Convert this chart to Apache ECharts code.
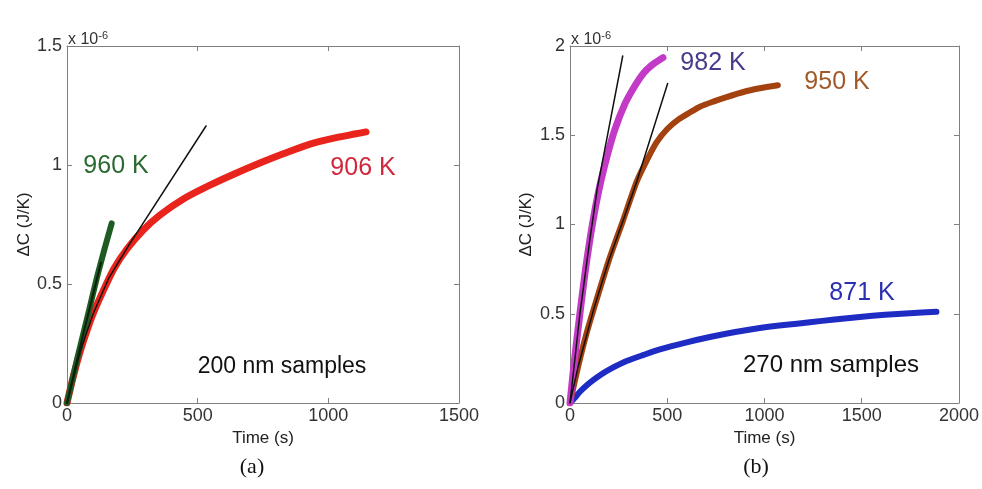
<!DOCTYPE html>
<html>
<head>
<meta charset="utf-8">
<script src="https://cdn.jsdelivr.net/npm/echarts@6/dist/echarts.min.js"></script>
<style>
  html, body { margin: 0; padding: 0; background: #fff; }
  #chart { width: 982px; height: 489px; }
</style>
</head>
<body>
<div id="chart"></div>
<script>
// panel (a): 200 nm samples, time in s, dC in 1e-6 J/K
const k906 = [[0,0],[25,0.115],[50,0.215],[75,0.3],[100,0.375],[138,0.47],[180,0.565],[228,0.645],[290,0.725],
  [356,0.79],[450,0.86],[547,0.915],[640,0.962],[738,1.008],[830,1.048],[930,1.088],[1030,1.115],[1100,1.13],[1144,1.139]];
const k960 = [[0,0],[40,0.19],[80,0.37],[120,0.55],[171,0.755]];
const fit906 = [[0,0],[50,0.215],[100,0.375],[160,0.525],[235,0.66],[532,1.164]];
const fit960 = [[0,0],[60,0.28],[130,0.59]];

// panel (b): 270 nm samples
const k982 = [[0,0],[25,0.26],[51,0.5],[80,0.75],[115,1.0],[150,1.2],[190,1.38],[230,1.53],[280,1.67],
  [330,1.77],[380,1.85],[430,1.9],[478,1.935]];
const k950 = [[0,0],[41,0.2],[80,0.37],[123,0.53],[200,0.8],[272,1.02],[343,1.24],[400,1.37],[445,1.46],
  [500,1.535],[560,1.59],[620,1.63],[668,1.66],[740,1.69],[805,1.714],[900,1.745],[976,1.763],[1069,1.78]];
const k871 = [[0,0],[25,0.03],[51,0.063],[85,0.098],[119,0.128],[160,0.16],[206,0.19],[291,0.235],[380,0.27],
  [462,0.3],[600,0.34],[719,0.37],[850,0.398],[976,0.42],[1100,0.437],[1233,0.452],[1360,0.468],[1490,0.482],
  [1620,0.494],[1747,0.503],[1884,0.511]];
const fit982 = [[0,0],[51,0.5],[100,0.9],[140,1.2],[271,1.944]];
const fit950 = [[0,0],[41,0.2],[123,0.53],[200,0.8],[272,1.02],[343,1.24],[502,1.79]];

const xTicksA = [0, 1500, 500];
const yTicksA = [0, 1.5, 0.5];
const xTicksB = [0, 2000, 500];
const yTicksB = [0, 2, 0.5];

const chart = echarts.init(document.getElementById('chart'));
const font = 'Liberation Sans, Arial, sans-serif';
const frame = '#808080';

function xAx(grid, t, bottom) {
  return {
    type: 'value', gridIndex: grid, min: t[0], max: t[1], interval: t[2],
    position: bottom ? 'bottom' : 'top',
    name: bottom ? 'Time (s)' : '', nameLocation: 'middle', nameGap: 25,
    nameTextStyle: { fontFamily: font, fontSize: 17, color: '#222' },
    axisLine: { show: true, onZero: false, lineStyle: { color: frame, width: 1 } },
    axisTick: { show: true, inside: true, length: 5, lineStyle: { color: frame } },
    axisLabel: { show: bottom, fontFamily: font, fontSize: 18, color: '#333', margin: 4, formatter: v => String(v) },
    splitLine: { show: false }
  };
}
function yAx(grid, t, left, gap) {
  return {
    type: 'value', gridIndex: grid, min: t[0], max: t[1], interval: t[2],
    position: left ? 'left' : 'right',
    name: left ? 'ΔC (J/K)' : '', nameLocation: 'middle', nameGap: gap, nameRotate: 90,
    nameTextStyle: { fontFamily: font, fontSize: 17, color: '#222' },
    axisLine: { show: true, onZero: false, lineStyle: { color: frame, width: 1 } },
    axisTick: { show: true, inside: true, length: 5, lineStyle: { color: frame } },
    axisLabel: { show: left, fontFamily: font, fontSize: 18, color: '#333', margin: 5, formatter: v => String(v) },
    splitLine: { show: false }
  };
}
function line(data, color, width, xi, yi, z, smooth) {
  return {
    type: 'line', data: data, xAxisIndex: xi, yAxisIndex: yi, showSymbol: false,
    smooth: smooth,
    lineStyle: { color: color, width: width, cap: 'round', join: 'round' }, z: z, animation: false
  };
}
function label(text, x, y, color, size) {
  return { type: 'text', x: x, y: y, style: { text: text, fill: color, font: size + 'px ' + font, textAlign: 'center', textVerticalAlign: 'middle' } };
}
function sci(x) {
  return {
    type: 'text', x: x, y: 30,
    style: { rich: { b: { fontSize: 16, fontFamily: font, fill: '#333' }, s: { fontSize: 11, fontFamily: font, fill: '#333', verticalAlign: 'top', padding: [0, 0, 8, 0] } },
      text: '{b|x 10}{s|-6}', fontFamily: font }
  };
}

const option = {
  backgroundColor: '#fff',
  animation: false,
  grid: [
    { left: 67, top: 46, width: 392, height: 357 },
    { left: 570, top: 46, width: 389, height: 357 }
  ],
  xAxis: [xAx(0, xTicksA, true), xAx(0, xTicksA, false), xAx(1, xTicksB, true), xAx(1, xTicksB, false)],
  yAxis: [yAx(0, yTicksA, true, 34), yAx(0, yTicksA, false, 0), yAx(1, yTicksB, true, 35), yAx(1, yTicksB, false, 0)],
  series: [
    line(k906, '#e8241c', 7, 0, 0, 2, 0.25),
    line(k960, '#1f5c24', 6, 0, 0, 2, 0.25),
    line(fit906, '#111', 1.5, 0, 0, 3, false),
    line(fit960, '#0b1f0b', 2, 0, 0, 3, false),
    line(k871, '#1f2cc4', 6, 2, 2, 2, 0.25),
    line(k950, '#a3420f', 6, 2, 2, 2, 0.25),
    line(k982, '#c23ac6', 7, 2, 2, 2, 0.25),
    line(fit982, '#111', 1.5, 2, 2, 3, false),
    line(fit950, '#111', 1.5, 2, 2, 3, false)
  ],
  graphic: [
    sci(68), sci(571),
    label('960 K', 116, 166, '#2a6a30', 25),
    label('906 K', 363, 168, '#d0283a', 25),
    label('200 nm samples', 282, 367, '#111', 23),
    label('982 K', 713, 63, '#4a3a8a', 25),
    label('950 K', 837, 82, '#a05a28', 25),
    label('871 K', 862, 293, '#2a30b0', 25),
    label('270 nm samples', 831, 365, '#111', 24),
    { type: 'text', x: 252, y: 467, style: { text: '(a)', fill: '#111', font: '22px Liberation Serif, Times New Roman, serif', textAlign: 'center', textVerticalAlign: 'middle' } },
    { type: 'text', x: 756, y: 467, style: { text: '(b)', fill: '#111', font: '22px Liberation Serif, Times New Roman, serif', textAlign: 'center', textVerticalAlign: 'middle' } }
  ]
};
chart.setOption(option);
</script>
</body>
</html>
